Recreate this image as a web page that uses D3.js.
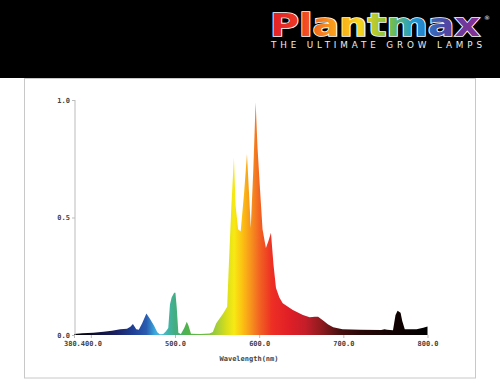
<!DOCTYPE html>
<html><head><meta charset="utf-8">
<script src="https://cdn.jsdelivr.net/npm/d3@7"></script>
<style>html,body{margin:0;padding:0;background:#fff;} svg{display:block;}</style>
</head><body>
<svg id="chart" width="500" height="386"></svg>
<script>
// Relative spectral output of the lamp (normalised to the 596 nm peak)
const wavelengths = [380, 390, 403, 415, 425, 435, 443, 447, 450, 454, 457, 461, 466, 470, 475, 479, 482, 486, 489, 492, 494, 496, 499, 500.5, 502, 504, 507, 511, 514, 516, 519, 530, 541, 545, 549, 553, 557, 562, 564, 567, 570, 572, 575, 578, 582, 585.5, 588, 590, 593, 595.8, 598, 601, 604, 608, 611, 614, 617, 620, 624, 628, 640, 652, 660, 666, 670, 676, 682, 688, 699, 720, 745, 749, 752, 759, 762, 764.5, 768, 770, 773, 787, 795, 800];
const intensities = [0.004, 0.007, 0.010, 0.014, 0.018, 0.025, 0.027, 0.035, 0.047, 0.025, 0.022, 0.05, 0.092, 0.07, 0.04, 0.012, 0.003, 0.004, 0.015, 0.03, 0.13, 0.16, 0.18, 0.18, 0.12, 0.01, 0.004, 0.03, 0.056, 0.04, 0.005, 0.004, 0.006, 0.013, 0.05, 0.07, 0.09, 0.12, 0.3, 0.55, 0.755, 0.55, 0.45, 0.44, 0.6, 0.77, 0.6, 0.455, 0.7, 0.99, 0.8, 0.62, 0.45, 0.37, 0.40, 0.435, 0.3, 0.2, 0.16, 0.135, 0.106, 0.085, 0.076, 0.078, 0.078, 0.062, 0.045, 0.033, 0.025, 0.022, 0.021, 0.025, 0.022, 0.02, 0.085, 0.103, 0.095, 0.06, 0.025, 0.025, 0.031, 0.036];

const xTicks = [380, 400, 500, 600, 700, 800];
const yTicks = [0, 0.5, 1.0];
const xLabel = "Wavelength(nm)";

// Approximate visible-light colour for each wavelength
const spectrumWl = [380, 400, 430, 450, 466, 476, 484, 492, 500, 515, 535, 550, 560, 570, 580, 590, 600, 615, 635, 655, 675, 695, 720, 760, 800];
const spectrumCol = ["#000000", "#0b0b26", "#1a2162", "#1f3f95", "#2a5cb0", "#3aa8dc", "#48c2e0", "#40b4a8", "#44ad80", "#50b34a", "#6cbd45", "#a6ce39", "#d4dd1c", "#f7ea14", "#fcc112", "#f7941d", "#f26522", "#ed2f24", "#e01f26", "#c41e2a", "#8b1a1e", "#4a1010", "#2a0808", "#120303", "#000000"];

// Logo text colours, left to right
const logoOffsets = [0, 0.14, 0.28, 0.42, 0.56, 0.68, 0.82, 1];
const logoCols = ["#e21f26", "#ee3a24", "#f7941d", "#fbd21a", "#7cc242", "#1b9ad6", "#4b4aa6", "#93298e"];

const svg = d3.select("#chart");
const defs = svg.append("defs");

// Header band with logo
svg.append("rect").attr("x", 0).attr("y", 0).attr("width", 500).attr("height", 78).attr("fill", "#000");

const lg = defs.append("linearGradient").attr("id", "logoGrad")
  .attr("gradientUnits", "userSpaceOnUse").attr("x1", 270).attr("x2", 482).attr("y1", 0).attr("y2", 0);
logoOffsets.forEach((o, i) => lg.append("stop").attr("offset", o).attr("stop-color", logoCols[i]));

svg.append("text").attr("x", 270).attr("y", 36)
  .attr("font-family", "'DejaVu Sans', sans-serif").attr("font-weight", "bold").attr("font-size", 32)
  .attr("textLength", 210).attr("lengthAdjust", "spacingAndGlyphs")
  .attr("fill", "url(#logoGrad)").attr("stroke", "#fff").attr("stroke-width", 1.6)
  .attr("paint-order", "stroke").text("Plantmax");
svg.append("text").attr("x", 484).attr("y", 20)
  .attr("font-family", "'DejaVu Sans', sans-serif").attr("font-size", 6).attr("fill", "#fff").text("®");
svg.append("text").attr("x", 271).attr("y", 47.5)
  .attr("font-family", "'DejaVu Sans', sans-serif").attr("font-size", 8.8).attr("fill", "#eee")
  .attr("textLength", 211).attr("lengthAdjust", "spacing").text("THE ULTIMATE GROW LAMPS");

// Chart frame
svg.append("rect").attr("x", 24.5).attr("y", 78.5).attr("width", 451).attr("height", 299.5)
  .attr("fill", "none").attr("stroke", "#c8c8c8");

// Scales
const x = d3.scaleLinear().domain([380, 800]).range([74, 427.5]);
const y = d3.scaleLinear().domain([0, 1]).range([335, 100]);

// Spectrum gradient along the wavelength axis
const sg = defs.append("linearGradient").attr("id", "specGrad")
  .attr("gradientUnits", "userSpaceOnUse").attr("x1", x(380)).attr("x2", x(800)).attr("y1", 0).attr("y2", 0);
spectrumWl.forEach((w, i) => sg.append("stop").attr("offset", (w - 380) / 420).attr("stop-color", spectrumCol[i]));

const data = wavelengths.map((w, i) => ({ w, v: intensities[i] }));
const area = d3.area().x(d => x(d.w)).y0(y(0)).y1(d => y(d.v));
svg.append("path").datum(data).attr("d", area).attr("fill", "url(#specGrad)");

// Axes
const tickFont = "'DejaVu Sans Mono', monospace";
const yAxis = svg.append("g").attr("transform", `translate(${x(380) + 1},0)`)
  .call(d3.axisLeft(y).tickValues(yTicks).tickFormat(d3.format(".1f")).tickSize(3).tickPadding(2));
const xAxis = svg.append("g").attr("transform", `translate(0,${y(0)})`)
  .call(d3.axisBottom(x).tickValues(xTicks).tickFormat(d3.format(".1f")).tickSize(3).tickPadding(3));
xAxis.select(".domain").remove();
[yAxis, xAxis].forEach(g => {
  g.selectAll(".domain").attr("stroke", "#bbb");
  g.selectAll(".tick line").attr("stroke", "#bbb");
  g.selectAll(".tick text").attr("font-family", tickFont).attr("font-size", 7)
    .attr("font-weight", "bold").attr("fill", "#444")
    .attr("stroke", "#fff").attr("stroke-width", 2).attr("paint-order", "stroke");
});
yAxis.select(".domain").attr("d", `M0,${y(1)}V${y(0)}`);

svg.append("text").attr("x", 249).attr("y", 361).attr("text-anchor", "middle")
  .attr("font-family", tickFont).attr("font-size", 7).attr("font-weight", "bold").attr("fill", "#444")
  .text(xLabel);
</script>
</body></html>
